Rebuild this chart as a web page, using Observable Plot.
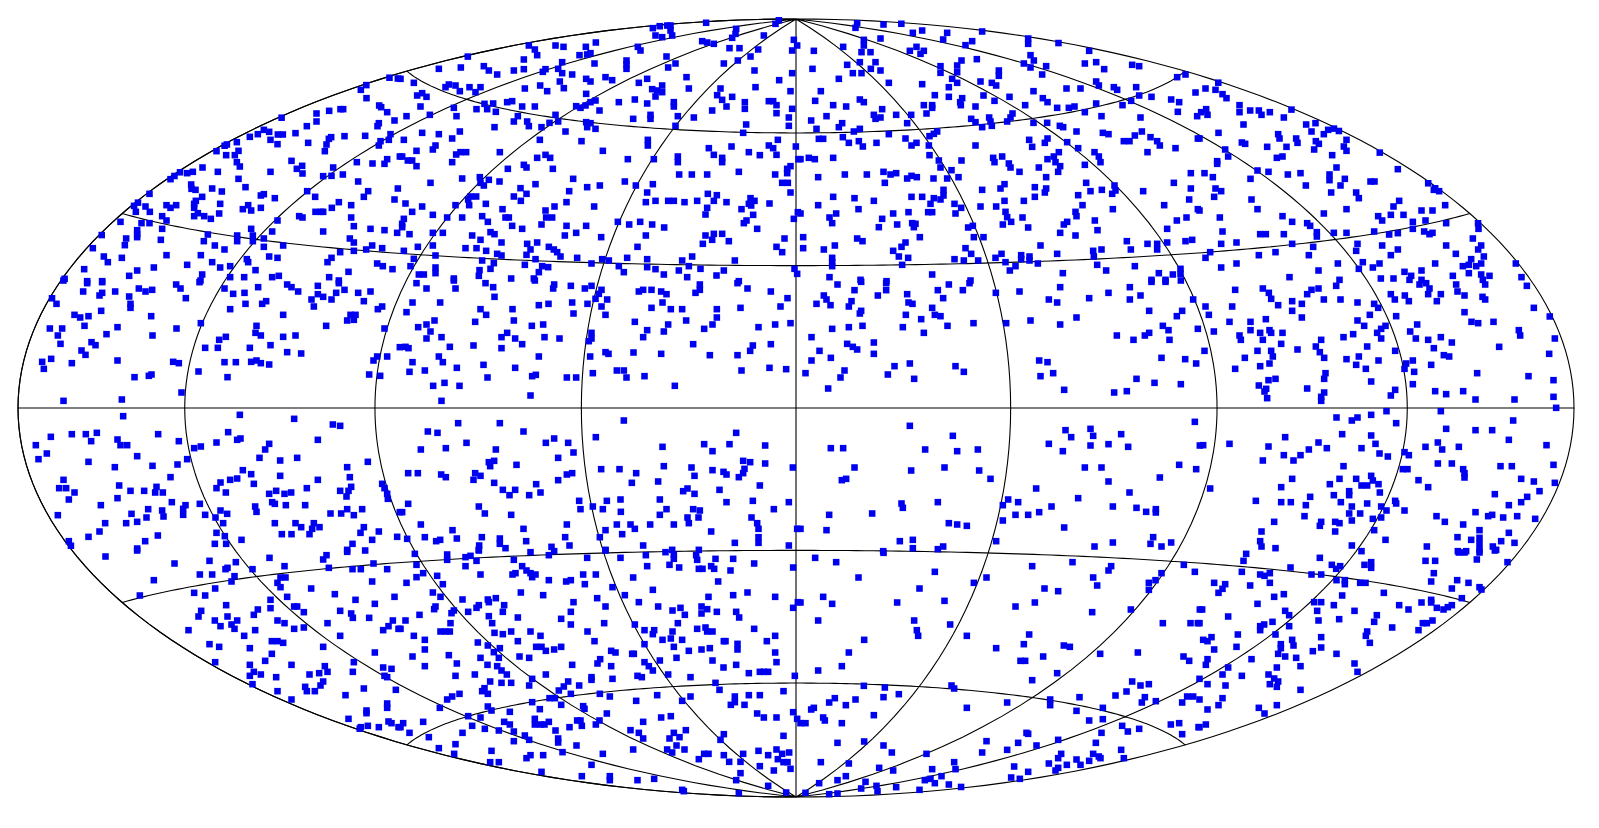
<!DOCTYPE html>
<html><head><meta charset="utf-8">
<style>html,body{margin:0;padding:0;background:#fff}svg{display:block}</style>
<script src="https://cdn.jsdelivr.net/npm/d3@7"></script>
<script src="https://cdn.jsdelivr.net/npm/@observablehq/plot@0.6"></script>
</head><body><div id="c"></div><script>
// They are turned back into longitude/latitude below and drawn through Plot's projection.
const regionA=[1165,200,1192,204,1095,222,1081,238,1098,263,1136,285,1142,290,1160,305,1182,330,1135,338,1131,347,1028,296,1020,296,986,301,948,309,948,333,919,347,835,317,885,368,847,372,832,372,772,371,790,358,806,364,748,379,810,388,831,401,923,397,992,380,985,385,978,402,973,422,1032,377,1094,376,1170,371,1140,392,1135,405,1165,388,709,395,675,400,660,400,648,422,677,434,703,434,714,421,709,455,718,468,873,451,905,466,889,475,906,489,810,484,998,471,1069,455,1116,459,1152,460,1160,446,1198,438,606,471,652,484,577,484,560,488,535,484,510,492,510,506,714,505,735,530,968,497,993,496,1027,492,1073,513,572,522,573,535,585,538,635,534,664,543,447,550,605,559,920,542,944,559,790,551,781,555,823,563,1103,542,1090,559,1192,534,1182,567,1015,575,1052,584,994,592,586,571,581,580,659,580,408,575,391,583,435,588,498,584,510,592,527,584,581,592,743,584,727,596,752,600,781,592,406,604,448,604,592,608,581,617,611,617,631,625,656,609,945,604,961,604,968,604,896,617,906,621,1052,621,485,617,498,630,360,634,423,638,447,638,831,630,1060,647,485,655,752,655,815,663,968,663,1110,655,1152,659,1190,667,410,659,410,671,410,680,293,671,377,684,373,704,481,688,622,672,710,675,610,692,710,692,757,675,757,692,790,684,1048,684,1060,696,277,713,643,705,672,717,848,705,790,709,1115,705,1097,717,1145,713,1019,725,1060,721,498,734,601,734,310,738,364,742,322,755,739,746,743,755,806,738,831,742,993,742,981,755,635,755,560,763,659,771,689,767,765,779,1130,759,1147,767,1044,784,1176,776,251,776,410,780,460,771,386,796,187,804,605,792,600,810,689,800,731,800,815,800,835,796,986,800,260,812,305,812,1015,810];
const regionB=[916,33,1135,25,1125,40,777,45,800,45,757,53,810,45,765,75,785,80,815,75,810,60,1007,55,1005,70,995,82,1090,75,1180,88,198,134,385,105,403,117,410,134,465,105,489,109,556,109,586,96,537,134,570,128,560,132,712,109,720,120,905,92,920,96,940,100,987,113,1017,113,1073,117,1175,120,1190,105,370,147,485,155,582,159,678,150,678,162,678,175,798,138,825,159,803,171,1050,138,1012,150,970,159,115,175,181,171,250,167,265,180,290,192,340,180,370,176,435,176,427,184,473,175,485,188,515,192,1062,180,1175,188,0,205,40,217,858,200,740,205,615,200,635,209,557,205,570,213,715,217,478,213,419,225,490,233,440,242,373,234,145,222,135,230,165,225,178,242,207,230,240,230,225,245,1136,209,1065,230,960,234,865,234,785,225,755,236,770,240,785,245,765,258,1170,242,950,254,995,259,965,268,978,288,557,250,50,255,65,248,78,259,1033,275,1033,295,1105,272,1118,272,1128,284,703,267,655,275,740,279,820,275,820,288,585,270,570,275,555,285,540,292,527,287,335,272,320,275,278,279,252,280,60,288,160,292,228,296,260,296,286,304,365,288,403,288,597,300,935,300,1175,295,1128,308,18,317,88,313,168,317,352,317,465,313,750,313,832,317,880,321,1165,321,340,333,380,333,385,347,473,333,423,350,447,337,557,335,570,338,560,350,698,325,750,325,1037,342,1165,346,825,346,585,355,282,350,495,363,178,363,65,367,115,371,1028,367,155,384,418,388,10,388,543,392,742,388,742,405,1132,388,105,405,97,417,48,421,298,425,607,421,925,413,940,433,993,408,1105,405,1118,413,1128,433,1045,425,1078,434,1186,408,197,425,180,425,167,432,155,455,5,438,22,450,35,450,48,467,410,442,435,433,449,442,370,463,378,471,322,475,457,475,682,446,760,446,832,438,832,455,965,442,965,455,1194,446,1170,467,1160,475,1160,488,1015,484,1124,492,836,492,874,492,920,492,185,504,238,500,90,517,297,513,240,517,265,508,250,525,405,521,518,505,360,533,378,550,340,558,361,571,560,530,598,525,673,513,706,525,757,521,506,542,740,546,1145,517,1162,517,1170,546,922,550,949,554,210,558,227,558,203,567,206,584,15,579,65,588,165,584,256,580,498,575,581,588,736,575,765,571,803,571,820,571,852,575,890,571,940,571,978,575,1050,563,1062,571,1045,580,1107,579,462,588,435,600,306,596,35,604,97,613,920,592,915,612,1023,596,1052,585,1058,613,1192,605,245,617,185,621,140,621,315,621,325,621,437,621,455,621,1180,625,10,625,5,640,262,634,652,634,719,634,1030,638,1038,630,335,646,365,655,423,642,498,646,557,646,686,642,755,642,791,651,1070,655,5,650,27,671,97,667,127,667,270,665,282,671,527,667,215,675,493,675,736,675,940,670,965,670,915,675,935,688,985,692,602,680,1152,684,240,688,303,696,380,700,410,696,907,700,97,705,52,709,195,713,228,713,257,721,445,709,460,717,390,717,470,725,711,709,1128,709,1145,725,10,721,290,730,378,733,105,735,303,735,480,738,530,742,680,742,40,745,30,767,245,750,405,746,605,746,625,750,740,746,845,750,875,738,1003,750,280,758,270,775,373,763,425,767,443,770,573,759,655,767,740,770,765,776,835,780,865,767,900,775,970,780,1182,775,237,779,105,771,105,788,70,792,55,792,415,785,670,785,790,792,860,800,948,795,235,796,160,804,332,804,400,804,1015,812,1190,790];
const regionC=[170,38,165,52,249,42,303,38,365,60,337,67,440,67,428,87,545,63,683,84,683,100,778,92,240,84,190,88,190,105,128,109,183,125,210,125,40,121,515,92,495,104,348,109,328,121,370,121,360,130,866,121,690,134,700,150,529,146,483,150,470,165,178,155,225,155,140,163,36,175,670,159,690,171,737,167,853,159,887,155,995,163,1016,167,911,176,420,167,420,187,470,185,595,180,595,196,157,188,183,188,211,175,240,180,725,192,115,205,455,205,470,217,265,217,365,221,540,213,574,217,587,225,445,230,887,213,895,225,940,230,950,238,798,234,840,234,1007,230,1130,200,1155,192,61,242,699,242,403,254,445,259,549,255,627,259,485,263,479,275,582,271,727,263,741,275,1016,255,1053,259,1112,267,1136,275,1185,246,44,271,178,267,190,275,98,284,137,288,370,284,395,284,395,292,481,284,525,288,674,284,770,292,805,292,822,288,887,279,966,284,992,271,245,296,1132,304,1190,317,220,313,240,321,225,325,287,313,332,313,378,309,78,317,32,330,636,309,630,321,853,305,903,317,1020,321,125,338,115,350,512,325,525,335,566,321,570,333,620,333,320,338,574,346,545,350,699,337,740,337,778,346,788,350,48,355,178,355,160,363,410,363,400,370,387,377,265,371,828,363,907,367,924,371,1024,363,1003,375,55,385,68,385,127,380,175,392,145,397,187,408,228,397,315,384,333,405,348,397,385,405,525,405,686,388,741,384,733,397,695,409,800,395,833,413,970,392,987,392,1050,380,1070,392,1078,405,1125,413,1192,384,1041,425,882,425,895,438,900,455,387,434,25,442,43,446,0,446,98,442,415,450,483,450,578,442,605,438,582,455,625,459,630,471,775,425,760,438,741,446,765,455,853,463,779,467,715,471,420,471,453,479,657,484,773,484,1171,488,53,500,133,492,199,492,249,484,270,492,287,488,320,504,333,496,349,500,399,504,440,504,474,500,737,500,253,517,612,521,600,534,703,530,737,534,733,546,857,517,942,525,870,542,904,538,935,550,945,540,1120,517,1171,534,1028,542,545,538,429,538,429,555,98,559,162,563,220,571,333,559,365,559,400,563,420,567,703,559,833,554,1166,567,53,584,612,571,670,571,390,580,462,580,482,592,540,588,587,588,846,584,1091,584,174,596,0,609,278,609,324,605,383,605,395,605,465,609,615,604,620,620,937,596,825,604,828,617,1192,596,107,609,87,621,95,638,245,625,290,642,335,638,345,640,340,650,235,650,632,634,666,621,883,630,1129,630,1158,621,800,634,790,642,607,642,517,646,503,651,683,651,891,659,1100,655,779,667,825,675,358,680,8,680,170,684,186,692,520,680,549,680,979,692,1041,700,1070,700,1100,696,1155,692,1175,688,315,696,303,709,720,705,8,713,70,717,103,705,278,721,495,713,991,717,903,717,1070,717,878,721,512,730,603,730,770,730,295,738,323,742,662,734,687,738,880,738,95,742,95,755,95,767,305,763,462,746,490,750,533,750,585,742,615,755,662,746,687,750,712,759,645,767,628,780,890,763,1003,767,917,780,787,788,395,792,87,800,1075,788,1117,792,1140,775,1140,790,1053,808,1095,808,510,810,258,812,180,808];
const regionD=[61,213,18,234,48,238,69,251,81,263,120,284,120,305,152,300,178,300,186,313,211,305,278,296,253,321,20,296,24,313,5,305,132,342,320,342,348,338,336,363,236,371,240,384,290,384,294,397,386,358,404,354,425,358,373,371,57,367,441,388,349,392,358,400,433,408,441,421,344,417,127,396,137,400,203,409,261,409,544,425,0,384,77,417,86,438,249,438,232,442,398,434,53,452,53,460,595,476,174,480,207,484,15,488,40,500,265,492,303,488,411,471,390,492,390,509,153,505,436,505,513,513,525,513,319,525,423,525,690,517,48,534,65,542,44,559,395,546,470,546,478,563,703,538,717,530,725,540,156,567,599,571,582,588,737,584,0,600,174,596,441,596,666,600,699,600,373,609,536,617,574,613,612,613,61,621,249,617,548,630,640,634,678,630,278,634,323,638,332,646,740,638,837,638,837,655,69,663,352,665,352,678,403,667,441,667,182,671,199,671,253,671,524,663,569,672,595,668,640,655,674,663,690,671,699,667,820,684,65,700,111,696,278,700,474,700,548,705,740,705,845,705,341,709,470,721,595,717,836,717,32,725,228,725,178,734,328,734,574,734,769,730,853,738,18,742,111,759,415,759,490,755,540,759,707,759,815,746,790,767,808,763,845,759,830,767,65,771,357,780,478,775,520,771,666,780,949,759,615,784,635,796,808,788,845,792,870,796,760,796,544,804,582,804,270,800,966,800,420,808,630,808,666,808,850,808];
const regionE=[188,0,260,8,305,5,248,33,344,33,297,45,305,37,415,24,435,33,455,28,386,48,527,12,540,24,597,5,556,53,672,24,698,40,732,37,773,20,860,12,873,20,893,33,952,16,1015,8,1032,28,952,41,968,49,1007,37,1073,37,1110,33,933,57,993,57,1090,62,152,53,168,70,390,70,390,82,735,70,785,70,797,62,940,78,689,86,1145,78,1132,86,302,91,222,103,239,111,264,107,452,107,848,103,1050,103,1065,103,1040,120,1060,118,252,136,351,140,601,128,977,136,768,136,148,144,185,144,528,144,1152,144,765,157,781,165,172,165,318,161,456,165,676,169,656,178,848,169,885,165,180,190,273,185,285,194,810,194,614,202,652,202,748,202,1198,200,243,210,255,223,860,215,902,219,152,235,125,244,130,265,214,248,351,240,518,244,535,248,672,245,706,245,752,244,768,240,781,248,806,252,1130,228,1119,240,1160,228,594,273,402,290,445,286,453,282,681,290,1106,282,1139,286,543,336,189,361,364,357,368,407,718,403,881,415,997,432,1019,436,151,469,214,461,256,461,289,457,473,461,683,455,106,494,272,482,351,477,360,494,380,494,535,482,648,486,710,478,720,474,952,478,581,503,601,498,806,490,794,507,139,519,410,527,114,536,264,544,777,532,890,532,560,536,839,540,1102,544,531,552,456,556,343,560,1040,560,727,569,752,581,510,590,839,586,1048,590,189,598,660,606,689,598,710,594,952,598,760,610,176,623,197,623,222,636,356,615,390,631,431,631,468,619,464,636,487,636,648,623,676,636,806,640,827,631,852,640,872,636,919,623,1019,631,1052,619,1044,631,1145,610,1152,623,1160,640,1038,648,205,657,351,653,815,665,823,670,1162,655,514,665,301,674,598,670,555,674,856,674,914,674,764,678,548,685,768,694,443,686,485,690,660,690,1040,686,1085,686,172,704,393,700,489,708,548,703,614,703,680,700,990,699,1022,699,1060,704,1198,695,438,711,410,724,314,728,377,728,645,711,668,728,823,728,885,728,902,740,940,728,957,740,935,745,1090,740,297,753,648,757,927,761,1135,753,1080,757,844,761,873,761,472,765,264,769,673,767,723,778,1190,769,1115,778,205,782,434,782,210,796,643,790,677,790,1056,790,1040,808,410,804];
const regionF=[48,8,78,24,165,24,160,0,255,8,278,20,403,0,461,12,458,24,511,16,553,24,573,16,603,28,1011,8,1041,24,1111,33,898,12,898,28,885,37,715,33,728,28,753,28,782,33,798,41,282,49,595,40,620,57,585,55,36,66,119,66,1161,53,415,74,444,70,515,66,561,70,603,78,786,66,1140,78,240,86,336,86,753,82,811,86,845,86,949,86,1020,82,18,95,257,103,519,99,615,103,949,111,102,120,224,124,340,120,703,124,857,120,78,132,53,140,394,136,428,132,803,132,936,132,1124,132,1170,128,90,153,740,149,790,153,911,145,1074,140,573,157,78,174,123,170,303,170,320,157,344,174,432,170,477,174,573,174,565,182,728,170,15,199,24,203,148,199,219,195,365,191,303,203,878,191,1057,195,1111,191,615,215,624,220,699,216,782,220,928,224,1011,224,1049,211,115,228,415,228,569,228,36,245,127,245,249,253,27,274,73,270,169,262,344,262,649,270,670,270,1023,270,1107,262,1157,266,577,278,261,291,395,287,406,283,499,291,527,291,678,291,732,287,132,307,98,316,177,316,823,316,390,345,123,361,670,420,173,428,298,428,82,453,111,457,369,453,1007,457,586,470,198,487,461,474,436,487,503,487,911,491,987,491,1094,495,136,503,61,507,286,507,786,499,936,512,519,516,473,532,265,545,281,541,269,557,348,553,1028,541,1049,545,1094,549,790,557,873,561,602,566,657,566,936,569,969,574,978,582,1032,565,1028,578,1177,561,23,578,52,578,122,582,136,590,224,578,240,586,219,598,499,582,515,578,707,578,882,586,1015,590,473,599,773,603,281,607,694,607,407,611,1078,615,307,628,344,628,848,632,861,624,957,628,327,644,386,644,420,636,882,640,536,661,619,661,660,657,778,657,1057,661,978,665,1165,665,23,670,235,678,577,678,5,695,540,686,607,686,798,686,878,686,898,690,1120,686,661,694,253,699,332,703,778,703,894,711,861,711,1053,711,865,728,1070,728,61,732,499,732,649,732,690,732,749,732,820,732,1074,745,369,745,156,749,615,749,703,745,1190,745,932,753,665,761,73,770,20,775,119,778,107,782,169,774,244,770,298,774,377,782,494,770,598,770,1074,770,1074,787,236,795,298,790,507,795,453,799,315,803,728,795,1003,787,1165,795,615,808,895,808,815,808,235,808];
const regionG=[111,12,162,29,182,4,257,8,257,29,320,41,232,45,412,29,445,12,507,8,487,29,428,53,586,37,657,33,779,20,988,20,1053,4,1095,4,1141,0,70,45,78,57,153,62,48,70,90,74,145,78,324,66,336,70,745,57,770,66,866,53,924,37,988,57,1020,45,1178,57,395,82,182,91,178,99,316,103,403,103,420,107,1046,91,1145,91,1129,107,828,111,362,116,690,120,519,128,617,128,779,132,95,145,145,140,186,136,307,140,441,136,1087,136,1104,149,1192,145,370,157,949,165,1033,165,1046,157,33,170,1107,178,999,178,220,186,140,190,157,199,170,207,57,211,220,220,91,232,33,240,1083,232,1154,236,716,240,741,245,1187,249,132,270,282,257,328,249,465,257,490,274,758,278,15,278,120,291,262,282,341,295,720,287,1008,295,1062,307,1141,311,83,324,791,328,941,336,979,332,328,436,795,449,870,445,812,470,878,466,962,461,457,466,1183,424,745,490,870,495,924,491,983,499,91,503,128,503,374,507,470,512,532,507,787,512,1198,495,162,561,332,570,432,561,536,570,853,561,903,561,1136,553,1187,566,137,595,124,599,570,595,924,603,1078,591,707,624,987,636,833,653,412,665,303,669,307,682,623,657,653,665,607,674,937,678,1008,682,753,678,1037,694,1066,686,1066,696,215,699,86,703,645,703,683,703,716,695,607,720,445,728,470,732,499,736,791,741,0,745,78,749,298,782,337,778,587,782,1058,770,1112,786,937,786,1050,790,428,798,412,806,337,803,882,798,1083,798,248,812];
const regionH=[107,28,190,24,208,37,215,55,236,74,323,41,336,28,357,24,410,16,373,57,423,57,278,62,307,70,474,66,524,70,536,82,278,91,98,78,18,78,28,103,307,111,590,107,511,103,574,41,586,57,616,45,628,62,712,62,724,41,660,12,680,8,690,24,686,41,770,12,774,33,795,45,849,49,857,12,857,57,982,16,795,95,1003,82,1058,107,90,124,153,124,199,116,474,120,494,136,653,132,816,124,836,128,882,124,558,136,545,145,533,157,43,153,153,149,182,157,210,149,215,157,249,157,120,165,124,178,190,178,432,170,461,161,632,153,649,174,686,178,724,170,757,186,545,174,958,149,962,165,1066,174,365,178,245,190,349,198,503,198,703,203,899,199,15,211,174,211,215,211,294,207,361,215,587,211,1049,220,220,228,136,232,374,232,478,228,733,224,749,228,441,236,537,240,640,240,210,249,620,249,182,257,470,253,695,253,107,265,499,265,615,265,644,274,378,278,833,278,987,287,228,295,207,299,374,295,515,303,1062,299,178,315,640,311,200,325,195,333,323,324,374,336,587,328,707,332,740,341,791,332,574,345,1062,349,203,353,365,349,365,361,828,357,945,357,1070,382,561,392,724,392,515,403,411,411,474,411,457,420,941,420,590,428,740,445,828,449,878,449,428,461,515,465,257,470,928,478,357,486,528,490,715,486,11,494,90,490,207,498,382,503,328,507,486,503,678,499,778,499,728,507,1041,494,540,519,615,515,628,524,565,528,253,524,303,524,282,540,190,540,432,557,715,549,757,549,903,557,937,557,1062,553,610,566,624,566,791,566,795,578,795,591,515,586,278,595,420,595,470,595,520,600,657,599,965,595,1003,603,391,611,486,615,503,615,537,611,245,620,1066,607,686,620,32,624,449,632,449,644,541,636,1020,632,403,644,886,641,332,649,983,649,169,661,245,665,274,665,424,665,503,669,587,661,590,669,965,665,319,674,457,678,545,678,928,674,561,690,615,690,449,699,482,699,828,695,866,707,878,703,315,707,520,715,545,711,711,707,911,711,953,707,1007,715,224,724,365,724,407,724,420,728,457,720,736,724,361,736,791,732,186,753,407,753,524,749,840,749,928,757,774,770,815,778,840,772,840,790,182,782,558,778,905,782,945,787,457,795,186,798,228,803,682,798,880,798,890,808,840,808,775,812,800,812];
const regionI=[315,18,410,0,522,39,627,31,706,35,681,52,675,56,807,22,852,47,978,14,968,27,1040,4,1094,0,756,56,1119,39,985,52,1056,56,1081,56,1160,56,598,72,635,72,702,77,693,93,460,89,840,81,855,81,831,97,840,110,1115,93,644,114,581,127,614,135,418,135,932,114,1003,131,860,139,1182,139,810,148,1065,148,677,164,1123,160,810,173,881,168,890,168,772,177,602,181,910,185,1019,181,1052,189,760,193,594,198,681,198,1057,202,1106,202,643,210,710,210,831,210,852,218,981,218,1177,210,660,227,693,222,1164,227,702,235,881,235,910,231,1148,239,1194,235,564,239,764,239,731,256,1019,256,814,272,831,272,848,277,627,281,656,289,748,293,968,289,814,310,1123,306,794,331,644,335,1060,335,748,343,873,343,973,347,1148,351,1173,355,760,364,956,368,981,364,1057,364,748,376,781,372,827,380,927,372,1152,376,1160,380,968,393,756,401,914,409,960,405,1090,414,1186,418,919,422,943,422,831,422,1035,434,873,447,1160,459,1160,472,1098,480,1098,488,1044,505,1164,513,1173,518,1102,526,1081,530,1077,535,1135,530,1194,530];
const regionJ=[43,10,140,12,140,28,195,20,210,16,228,31,235,0,340,28,390,5,445,14,461,2,560,22,615,0,660,22,736,14,795,5,820,12,820,25,887,14,890,28,945,25,998,25,48,43,195,47,365,47,378,60,390,68,405,72,395,80,740,47,807,43,836,51,895,55,906,55,932,47,941,55,990,60,1061,39,1178,51,68,68,48,80,110,76,240,72,336,72,345,68,548,72,586,72,698,81,18,97,127,101,445,89,497,93,511,89,553,101,953,93,636,110,757,118,97,126,120,139,361,126,428,134,673,134,924,139,998,134,1041,126,1124,139,186,147,262,147,286,143,265,155,590,143,519,155,715,155,1192,155,235,164,228,172,311,164,105,168,101,176,160,180,153,188,203,184,307,184,511,184,615,168,773,168,840,172,903,168,920,176,903,189,816,180,949,184,1007,184,1178,172,853,193,57,193,265,197,352,201,482,205,1016,201,15,210,150,218,275,218,511,222,611,218,832,218,703,222,1061,235,0,235,120,243,135,243,148,243,282,247,307,251,332,243,390,243,561,243,732,239,761,239,890,235,915,231,936,243,920,243,816,243,757,251,40,256,420,256,811,264,1124,256,73,268,352,272,582,272,786,268,845,268,970,272,975,272,1099,272,232,276,1011,280,262,285,732,281,407,289,423,289,461,297,482,289,820,289,298,293,73,297,280,305,436,301,632,301,645,306,865,301,903,297,928,293,1011,297,1124,306,145,314,36,318,240,322,295,322,357,318,386,322,599,326,695,310,700,310,828,322,936,330,169,339,732,335,591,339,778,330,1128,335,73,347,515,343,261,343,290,347,632,347,745,347,1007,343,969,351,303,360,757,360,319,372,165,376,223,372,436,372,711,376,724,380,803,372,870,380,1045,368,1078,364,1090,364,1103,364,573,380,573,388,636,385,395,385,1183,376,269,393,303,397,332,397,503,393,386,405,490,408,536,405,945,397,252,413,957,418,245,422,475,420,177,430,262,430,511,430,598,430,770,434,155,438,140,447,628,438,1149,422,1045,434,1078,434,1003,438,447,443,463,443,707,451,845,451,870,438,395,455,1003,455,991,463,1032,463,482,463,548,467,552,475,118,472,262,468,273,480,418,476,328,484,619,489,1070,489,1090,501,1128,501,1178,485,203,497,240,501,403,505,782,501,811,497,1190,505,311,514,530,510,540,510,597,510,728,514,68,514,8,518,0,530,215,526,328,522,403,522,420,522,432,522,445,514,586,522,544,526,507,530,253,535,295,540,340,543,465,540,690,539,856,539,27,547,186,547,715,547,820,547,373,555,807,564,837,560,970,551,1149,556,85,560,340,572,386,568,473,564,473,576,728,564,960,568,165,581,528,585,828,585,115,593,800,597,698,597,852,597,273,601,486,605,607,610,815,606,911,610,924,610,970,614,1028,610,1074,601,1103,614,1128,597,1145,610,1166,606,161,610,390,614,428,614,378,623,895,626,986,634,1020,634,1132,626,1149,635,1161,635,269,635,295,635,573,643,1078,647,1120,660,1170,655,423,664,1020,668,544,677,628,677,628,689,711,689,761,685,1007,689,1103,706,845,718,1015,728,1157,726,850,722];
const regionK=[44,22,107,35,249,7,695,47,816,35,932,47,924,60,1150,43,1183,64,403,64,174,81,558,81,878,81,1083,68,520,97,890,105,1045,97,1065,89,1045,118,357,114,732,114,773,122,68,139,95,160,290,156,432,151,645,168,703,156,0,156,875,185,991,177,1198,177,53,210,341,210,449,222,1087,218,1170,218,1192,218,349,239,353,256,499,256,686,252,191,268,670,281,587,293,790,285,808,289,145,306,899,310,1012,306,728,318,1149,318,1166,331,660,331,674,331,124,347,53,360,770,368,695,389,995,393,1020,405,1045,401,190,406,253,411,453,405,461,414,295,431,249,440,837,440,945,435,978,423,1033,440,1160,438,1178,438,165,447,103,443,86,456,620,456,749,447,749,464,1024,456,1066,452,1145,456,136,464,40,472,32,477,907,472,499,472,828,481,220,494,68,501,73,510,866,510,907,506,15,518,124,518,0,518,1111,522,1136,518,965,526,1016,535,1194,530,678,547,683,550,903,547,982,543,1145,551,111,577,191,573,558,572,653,577,773,568,886,577,249,585,708,585,274,606,378,610,545,606,620,598,962,598,782,610,773,623,878,610,895,618,900,623,828,627,970,623,61,635,145,639,461,635,745,639,799,643,866,631,840,643,236,652,278,660,395,656,465,656,641,648,773,652,765,660,136,677,683,664,423,677,111,689,195,694,373,689,390,685,403,698,632,681,658,685,56,698,445,702,228,706,287,710,182,714,231,722,357,718,482,710,15,727,86,731,111,729];
const regionL=[140,10,132,31,361,22,486,2,678,31,707,31,778,6,795,6,840,6,832,27,886,0,924,35,273,51,515,35,495,43,515,52,397,43,422,47,410,55,127,64,182,72,195,76,211,68,336,72,365,72,703,68,44,97,77,101,152,105,211,97,411,89,436,89,436,101,482,97,498,97,695,93,773,89,807,97,69,115,57,127,757,114,840,110,853,119,224,139,253,131,428,135,553,127,787,143,174,160,344,155,365,155,403,164,599,164,666,156,695,148,695,156,712,172,732,177,745,170,757,164,627,177,8,177,257,181,353,181,465,181,86,198,269,194,532,194,0,218,219,214,357,210,419,206,524,214,699,210,670,218,682,218,194,222,182,227,182,239,269,227,578,231,657,239,228,252,115,252,503,243,499,256,36,260,11,268,24,272,365,260,278,268,511,277,282,285,244,281,244,293,111,289,44,297,365,291,340,302,236,310,257,318,411,310,290,322,24,326,156,326,19,343,465,339,86,351,232,351,303,347,474,364,69,372,127,376,207,372,224,384,236,393,0,385,24,401,78,405,211,401,232,409,303,418,69,443,0,447,57,464,232,464,178,472,24,477,195,489,19,522,0,530];
const regions=[[regionA,0,10],[regionB,400,10],[regionC,800,10],[regionD,1199,10],[regionE,0,280],[regionF,400,280],[regionG,800,280],[regionH,1199,280],[regionI,0,550],[regionJ,400,550],[regionK,800,550],[regionL,1199,550]];
const SCALE=778/(2*Math.SQRT2),CX=795.5,CY=407.5;
function hammerRaw(l,p){const c=Math.cos(p),z=Math.sqrt(1+c*Math.cos(l/2));return [2*Math.SQRT2*c*Math.sin(l/2)/z,Math.SQRT2*Math.sin(p)/z];}
hammerRaw.invert=function(x,y){const q=Math.sqrt(Math.max(0,1-x*x/16-y*y/4));return [2*Math.atan2(q*x,2*(2*q*q-1)),Math.asin(Math.max(-1,Math.min(1,q*y)))];};
const proj=()=>d3.geoProjection(hammerRaw).scale(SCALE).translate([CX,CY]).precision(.1);
const sky=[];
for(const [list,ox,oy] of regions){for(let i=0;i<list.length;i+=2){
  let x=(ox+list[i]/3-CX)/SCALE,y=(CY-(oy+list[i+1]/3))/SCALE;
  const r=Math.hypot(x/(2*Math.SQRT2),y/Math.SQRT2);if(r>.997){x*=.997/r;y*=.997/r;}
  const [l,p]=hammerRaw.invert(x,y);sky.push({lon:l*180/Math.PI,lat:p*180/Math.PI});
}}
const grat=d3.geoGraticule().extent([[-180,-90],[180,90]]).step([45,30]).stepMajor([45,30]).precision(2);
document.getElementById("c").append(Plot.plot({width:1599,height:828,margin:0,projection:proj,marks:[
Plot.geo(grat(),{stroke:"#000",strokeWidth:1.1}),
Plot.sphere({stroke:"#000",strokeWidth:1.1}),
Plot.dot(sky,{x:"lon",y:"lat",symbol:"square",r:3.7,fill:"#0000f0",stroke:"none"})
]}));
</script></body></html>
